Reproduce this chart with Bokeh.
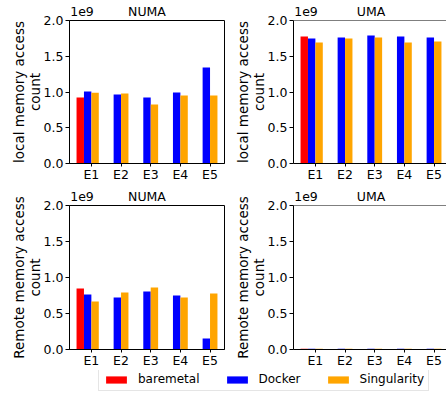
import numpy as np
from bokeh.plotting import figure
from bokeh.models import (Range1d, FixedTicker, CustomJSTickFormatter, Span, LinearAxis,
                          Legend, LegendItem)
from bokeh.layouts import column, row
from bokeh.embed import file_html
from bokeh.resources import INLINE

categories = ["E1", "E2", "E3", "E4", "E5"]
series = ["baremetal", "Docker", "Singularity"]
colors = ["#ff0000", "#0000ff", "#ffa500"]
yticks = [0.0, 0.5e9, 1.0e9, 1.5e9, 2.0e9]

# local memory access count
numa_local_baremetal = [0.923e9, 0, 0, 0, 0]
numa_local_docker = [1.007e9, 0.965e9, 0.923e9, 0.993e9, 1.343e9]
numa_local_singularity = [0.989e9, 0.979e9, 0.825e9, 0.951e9, 0.951e9]

uma_local_baremetal = [1.776e9, 0, 0, 0, 0]
uma_local_docker = [1.748e9, 1.762e9, 1.790e9, 1.776e9, 1.762e9]
uma_local_singularity = [1.692e9, 1.748e9, 1.762e9, 1.692e9, 1.706e9]

# remote memory access count
numa_remote_baremetal = [0.847e9, 0, 0, 0, 0]
numa_remote_docker = [0.764e9, 0.722e9, 0.806e9, 0.750e9, 0.153e9]
numa_remote_singularity = [0.667e9, 0.792e9, 0.861e9, 0.722e9, 0.778e9]

uma_remote_baremetal = [0.012e9, 0, 0, 0, 0]
uma_remote_docker = [0.012e9, 0.012e9, 0.012e9, 0.012e9, 0.012e9]
uma_remote_singularity = [0.012e9, 0.012e9, 0.012e9, 0.012e9, 0.012e9]

FONT = "DejaVu Sans"
BAR_W = 0.25
OFFSETS = [-0.375, -0.125, 0.125]
X0 = -0.7375
FULL_W = 155
PX_PER_UNIT = FULL_W / 5.225


def make_panel(title, ylabel, data, left, frame_w, frame_h, b_left, b_right, b_top, b_bottom):
    x_end = X0 + frame_w / PX_PER_UNIT
    p = figure(frame_width=frame_w, frame_height=frame_h, output_backend="svg",
               toolbar_location=None,
               x_range=Range1d(X0, x_end), y_range=Range1d(0, 2.0e9),
               min_border_left=b_left, min_border_right=b_right,
               min_border_top=b_top, min_border_bottom=b_bottom)
    p.grid.visible = False
    idx = np.arange(len(categories))
    for vals, off, col in zip(data, OFFSETS, colors):
        p.vbar(x=idx + off, top=vals, width=BAR_W, fill_color=col, line_color=None)
    p.xaxis.ticker = FixedTicker(ticks=list(range(len(categories))), minor_ticks=[])
    p.xaxis.major_label_overrides = {i: c for i, c in enumerate(categories)}
    p.yaxis.ticker = FixedTicker(ticks=yticks, minor_ticks=[])
    p.yaxis.formatter = CustomJSTickFormatter(code="return (tick/1e9).toFixed(1);")
    for ax in (p.xaxis[0], p.yaxis[0]):
        ax.major_label_text_font = FONT
        ax.major_label_text_font_size = "12.5px"
        ax.major_label_text_color = "black"
        ax.axis_line_color = "black"
        ax.major_tick_line_color = "black"
        ax.minor_tick_line_color = None
        ax.major_tick_in = 0
    p.xaxis.major_tick_out = 3
    p.xaxis.major_label_standoff = 0
    p.yaxis.major_tick_out = 4
    p.yaxis.major_label_standoff = 2
    p.yaxis.axis_label = ylabel
    p.yaxis.axis_label_text_font = FONT
    p.yaxis.axis_label_text_font_size = "13.5px"
    p.yaxis.axis_label_text_font_style = "normal"
    p.yaxis.axis_label_text_color = "black"
    p.yaxis.axis_label_text_line_height = 1.0
    p.yaxis.axis_label_standoff = -2
    if left:
        p.outline_line_color = "black"
    else:
        p.outline_line_color = None
        p.add_layout(Span(location=2.0e9, dimension="width", line_color="black", line_width=1))
    # offset text "1e9" and subplot title, drawn as labels of a tick-less top axis
    top_ticks = [X0 + 12.5 / PX_PER_UNIT, X0 + (FULL_W / 2) / PX_PER_UNIT]
    top = LinearAxis(ticker=FixedTicker(ticks=top_ticks, minor_ticks=[]),
                     formatter=CustomJSTickFormatter(args=dict(t=title),
                                                     code="return index == 0 ? '1e9' : t;"),
                     axis_line_color=None, major_tick_line_color=None,
                     minor_tick_line_color=None, major_tick_out=0, major_tick_in=0,
                     major_label_standoff=2, major_label_text_font=FONT,
                     major_label_text_font_size="12.5px", major_label_text_color="black")
    p.add_layout(top, "above")
    return p


p1 = make_panel("NUMA", "local memory access\ncount",
                [numa_local_baremetal, numa_local_docker, numa_local_singularity],
                True, 155, 143, 69, 2, 20, 21)
p2 = make_panel("UMA", "local memory access\ncount",
                [uma_local_baremetal, uma_local_docker, uma_local_singularity],
                False, 153, 143, 67, 0, 20, 21)
p3 = make_panel("NUMA", "Remote memory access\ncount",
                [numa_remote_baremetal, numa_remote_docker, numa_remote_singularity],
                True, 155, 144, 69, 2, 21, 21)
p4 = make_panel("UMA", "Remote memory access\ncount",
                [uma_remote_baremetal, uma_remote_docker, uma_remote_singularity],
                False, 153, 144, 67, 0, 21, 21)

LH = 396 - (20 + 143 + 21) - (21 + 144 + 21)
pl = figure(width=446, height=LH, output_backend="svg", toolbar_location=None,
            x_range=Range1d(0, 1), y_range=Range1d(0, 1),
            x_axis_type=None, y_axis_type=None,
            min_border_left=0, min_border_right=0, min_border_top=0, min_border_bottom=0)
pl.outline_line_color = None
pl.grid.visible = False
items = []
for name, col in zip(series, colors):
    r = pl.vbar(x=[5.0], top=[0.5], width=0.1, fill_color=col, line_color=None)
    items.append(LegendItem(label=name, renderers=[r]))
leg = Legend(items=items, orientation="horizontal", location=(98, 5),
             label_text_font=FONT, label_text_font_size="12px", label_text_color="black",
             glyph_width=26, glyph_height=9, label_height=13, label_standoff=9,
             spacing=24, padding=4, margin=0,
             border_line_color="#cccccc", border_line_width=1,
             background_fill_color="white", background_fill_alpha=0.8)
pl.add_layout(leg)

layout = column(row(p1, p2), row(p3, p4), pl)
open("out.html", "w").write(file_html(layout, INLINE))
